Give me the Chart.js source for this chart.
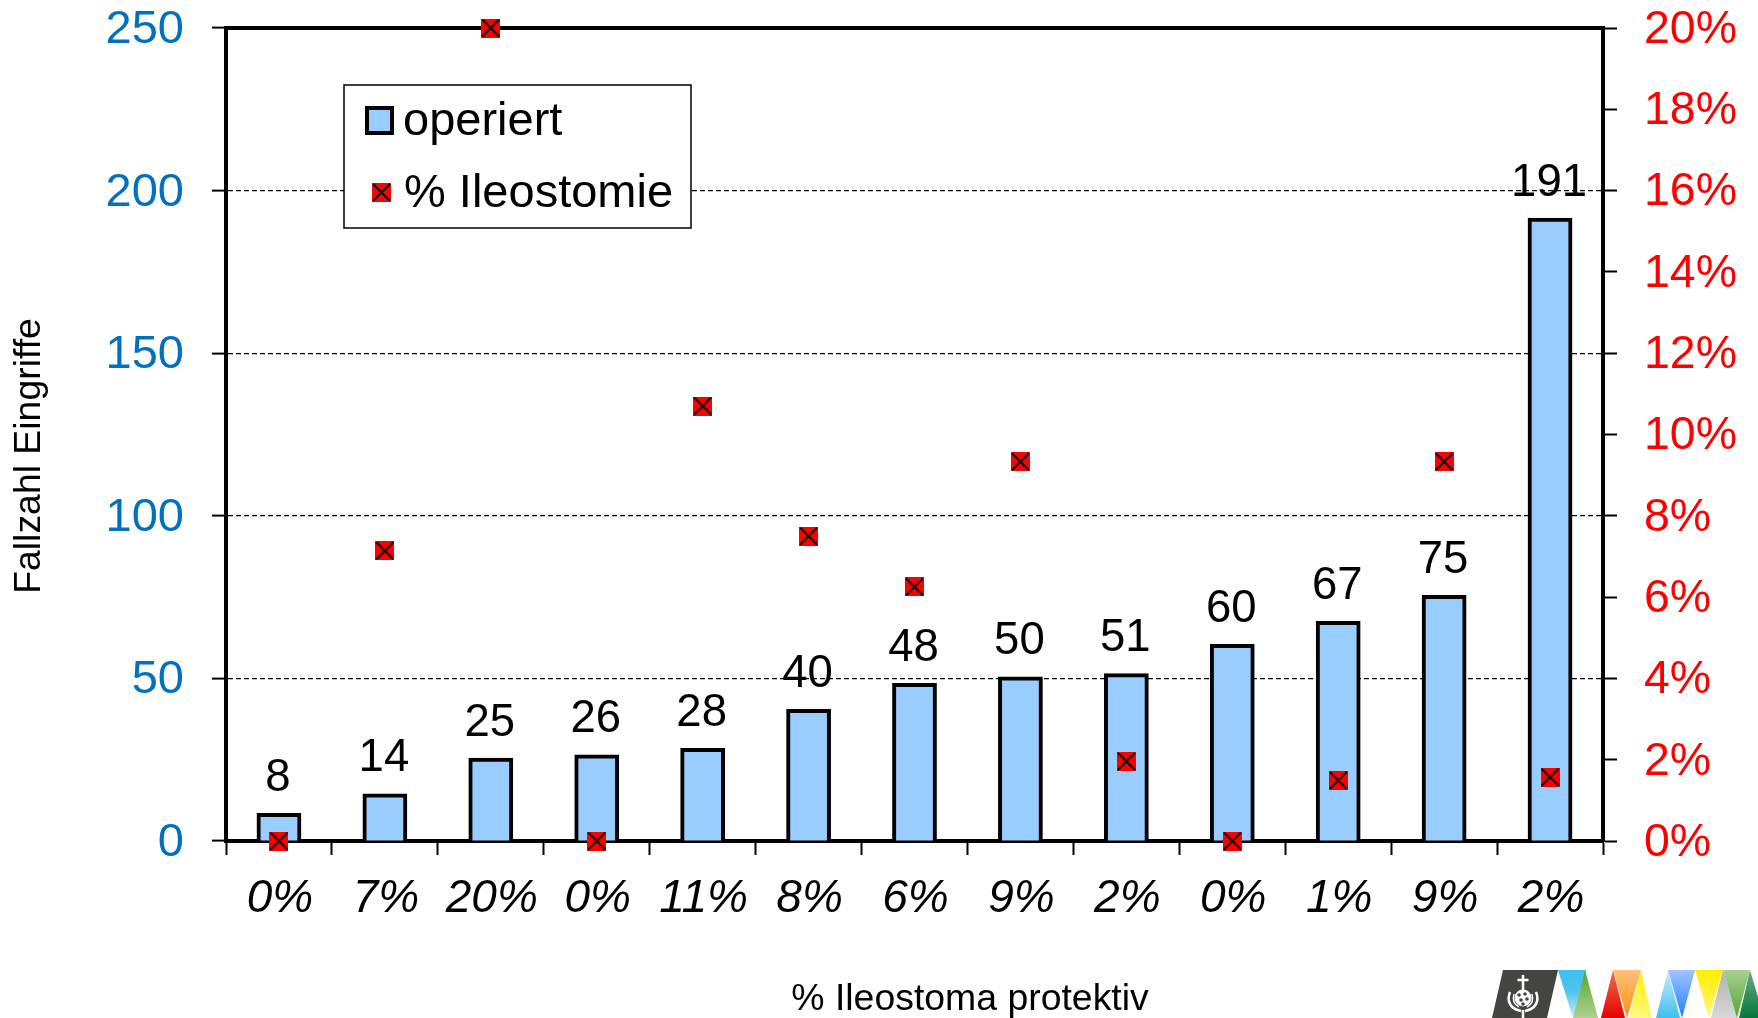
<!DOCTYPE html>
<html><head><meta charset="utf-8">
<script src="https://cdn.jsdelivr.net/npm/chart.js@4/dist/chart.umd.js"></script>
<style>html,body{margin:0;padding:0;background:#fff;width:1758px;height:1018px;overflow:hidden}
#wrap{position:absolute;left:0;top:0;width:1758px;height:1018px}
#logo{position:absolute;left:1490px;top:970px}</style></head>
<body><div id="wrap"><canvas id="c" width="1758" height="1018"></canvas></div>
<svg id="logo" width="268" height="48" viewBox="0 0 268 48">
<defs>
<linearGradient id="gb" x1="0" y1="0" x2="0" y2="1"><stop offset="0" stop-color="#3cc0ee"/><stop offset=".45" stop-color="#50c4ee"/><stop offset="1" stop-color="#d0ecf8"/></linearGradient>
<linearGradient id="gg" x1="0" y1="0" x2="0" y2="1"><stop offset="0" stop-color="#4fa82c"/><stop offset="1" stop-color="#b0d090"/></linearGradient>
<linearGradient id="gr" x1="0" y1="0" x2="0" y2="1"><stop offset="0" stop-color="#f07050"/><stop offset="1" stop-color="#e80000"/></linearGradient>
<linearGradient id="go" x1="0" y1="0" x2="0" y2="1"><stop offset="0" stop-color="#ffc080"/><stop offset="1" stop-color="#ff9000"/></linearGradient>
<linearGradient id="gy" x1="0" y1="0" x2="0" y2="1"><stop offset="0" stop-color="#ffee00"/><stop offset="1" stop-color="#fff880"/></linearGradient>
<linearGradient id="gl" x1="0" y1="0" x2="0" y2="1"><stop offset="0" stop-color="#d0ecf8"/><stop offset="1" stop-color="#3cc0ee"/></linearGradient>
<linearGradient id="gu" x1="0" y1="0" x2="0" y2="1"><stop offset="0" stop-color="#a0c4ff"/><stop offset="1" stop-color="#2080ff"/></linearGradient>
<linearGradient id="gs" x1="0" y1="0" x2="0" y2="1"><stop offset="0" stop-color="#a8d090"/><stop offset="1" stop-color="#50a830"/></linearGradient>
<linearGradient id="gd" x1="0" y1="0" x2="0" y2="1"><stop offset="0" stop-color="#70a880"/><stop offset="1" stop-color="#007a3c"/></linearGradient>
<linearGradient id="gc" x1="0" y1="0" x2="0" y2="1"><stop offset="0" stop-color="#b0b0b0"/><stop offset="1" stop-color="#d8d8d8"/></linearGradient>
</defs>
<polygon points="13,0 68,0 57,48 2,48" fill="#444442"/>
<g fill="none" stroke="#fff"><path d="M33 5V20M27.500 10H38.500" stroke-width="2.500"/>
<circle cx="33" cy="28" r="8.500" fill="#fff" stroke="none"/>
<path d="M20 22C16 32 21 39 31 41M46 22C50 32 45 39 35 41" stroke-width="2.500"/><path d="M24 24C22 31 25 35 29 37M42 24C44 31 41 35 37 37" stroke-width="1.500"/><path d="M33 40V48" stroke-width="2.500"/></g>
<g fill="#444442"><circle cx="29" cy="25" r="1.800"/><circle cx="35" cy="24" r="1.800"/><circle cx="37" cy="29" r="1.800"/><circle cx="31" cy="30" r="1.800"/><circle cx="33" cy="34" r="1.800"/></g>
<polygon points="68,0 96,0 83,48" fill="url(#gb)"/><polygon points="95,0 108,48 83,48" fill="url(#gg)"/>
<polygon points="123,0 135,48 111,48" fill="url(#gr)"/><polygon points="123,0 151,0 137,48" fill="url(#go)"/><polygon points="151,0 162,48 139,48" fill="url(#gy)"/>
<polygon points="178,0 190,48 166,48" fill="url(#gl)"/><polygon points="178,0 205,0 192,48" fill="url(#gu)"/>
<polygon points="205,0 233,0 219,48" fill="url(#gy)"/><polygon points="233,0 247,48 221,48" fill="url(#gc)"/>
<polygon points="233,0 260,0 247,48" fill="url(#gs)"/><polygon points="260,0 268,27 268,48 249,48" fill="url(#gd)"/>
</svg>
<script>
const categories=['0%','7%','20%','0%','11%','8%','6%','9%','2%','0%','1%','9%','2%'];
const operiert=[8,14,25,26,28,40,48,50,51,60,67,75,191];
const ileostomie=[0,7.14,20,0,10.7,7.5,6.25,9.33,1.96,0,1.49,9.33,1.57];
const leftTicks=[0,50,100,150,200,250];
const rightTicks=[0,2,4,6,8,10,12,14,16,18,20];
const seriesNames=['operiert','% Ileostomie'];
const xTitle='% Ileostoma protektiv';
const yTitle='Fallzahl Eingriffe';
const F='"Liberation Sans",Arial,sans-serif';

function marker(size){
  const k=document.createElement('canvas');k.width=k.height=size;
  const g=k.getContext('2d');
  g.fillStyle='#FF0000';g.fillRect(0,0,size,size);
  g.strokeStyle='#000';g.lineWidth=1.8;
  g.beginPath();g.moveTo(1,1);g.lineTo(size-1,size-1);g.moveTo(size-1,1);g.lineTo(1,size-1);g.stroke();
  return k;
}
const mark=marker(19);

const overlay={id:'overlay',
  afterDatasetsDraw(ch){
    const c=ch.ctx,a=ch.chartArea;
    c.save();
    // top frame line
    c.strokeStyle='#000';c.lineWidth=4;c.setLineDash([]);
    c.beginPath();c.moveTo(a.left-2,a.top);c.lineTo(a.right+2,a.top);c.stroke();
    // data labels above the bars
    c.fillStyle='#000';c.font='45.5px '+F;c.textAlign='center';c.textBaseline='alphabetic';
    const m=ch.getDatasetMeta(1);
    m.data.forEach((b,i)=>c.fillText(String(operiert[i]),b.x-1,b.y-24));
    // markers stay above the labels
    ch.getDatasetMeta(0).data.forEach(p=>c.drawImage(mark,p.x-9.5,p.y-9.5));
    // legend
    c.fillStyle='#fff';c.fillRect(344,85,347,143);
    c.strokeStyle='#000';c.lineWidth=1.5;c.strokeRect(344,85,347,143);
    c.fillStyle='#99CCFF';c.fillRect(367,108,25,25);
    c.strokeStyle='#000';c.lineWidth=4;c.strokeRect(367,108,25,25);
    c.drawImage(mark,372,183);
    c.fillStyle='#000';c.font='47px '+F;c.textAlign='left';
    c.fillText(seriesNames[0],403,135);
    c.fillText(seriesNames[1],404,207);
    // axis titles
    c.font='37.4px '+F;c.textAlign='center';
    c.fillText(xTitle,970,1010);
    c.translate(40,456);c.rotate(-Math.PI/2);c.fillText(yTitle,0,0);
    c.restore();
  }};

new Chart(document.getElementById('c'),{
  data:{labels:categories,datasets:[
    {type:'line',label:seriesNames[1],data:ileostomie,yAxisID:'y1',xAxisID:'x',
     showLine:false,pointStyle:mark,pointRadius:9.5,pointHoverRadius:9.5,clip:false,order:1},
    {type:'bar',label:seriesNames[0],data:operiert,yAxisID:'y',xAxisID:'x',backgroundColor:'#99CCFF',borderColor:'#000',borderWidth:4,inflateAmount:2,barPercentage:0.385,categoryPercentage:1,order:2}
  ]},
  plugins:[overlay],
  options:{responsive:false,animation:false,
    layout:{padding:{top:28,left:0,right:0,bottom:0}},
    plugins:{legend:{display:false},tooltip:{enabled:false},title:{display:false}},
    scales:{
      x:{type:'category',offset:true,
        afterFit(s){s.height=177;s.paddingLeft=0;s.paddingRight=0},
        grid:{offset:true,drawOnChartArea:false,drawTicks:true,tickLength:14,tickWidth:2,tickColor:'#000'},
        border:{display:true,color:'#000',width:4},
        ticks:{color:'#000',font:{family:F,size:46,style:'italic'},padding:17,labelOffset:1,maxRotation:0,autoSkip:false}},
      y:{position:'left',min:0,max:250,
        afterFit(s){s.width=226;s.paddingTop=0;s.paddingBottom=0},
        afterBuildTicks(s){s.ticks=leftTicks.map(v=>({value:v}))},
        grid:{color:'#000',lineWidth:1.2,tickLength:14,tickColor:'#000',tickWidth:2,tickBorderDash:[]},
        border:{display:true,color:'#000',width:4,dash:[5,3]},
        ticks:{color:'#0070C0',font:{family:F,size:47},padding:28,labelOffset:2}},
      y1:{position:'right',min:0,max:20,
        afterFit(s){s.width=155;s.paddingTop=0;s.paddingBottom=0},
        afterBuildTicks(s){s.ticks=rightTicks.map(v=>({value:v}))},
        grid:{drawOnChartArea:false,tickLength:14,tickColor:'#000',tickWidth:2},
        border:{display:true,color:'#000',width:4},
        ticks:{color:'#FF0000',font:{family:F,size:46.500},padding:27,labelOffset:2,callback:v=>v+'%'}}
    }
  }
});
</script></body></html>
